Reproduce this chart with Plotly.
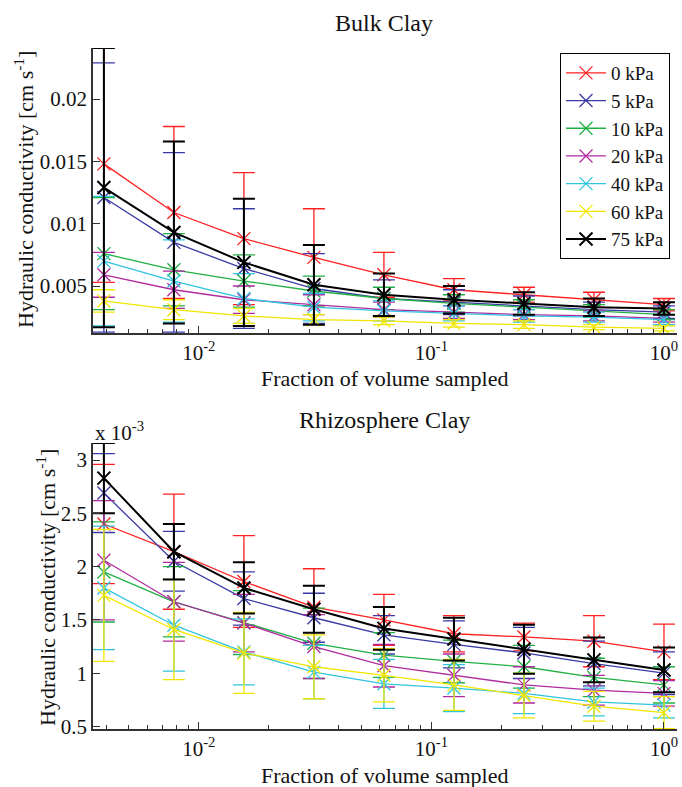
import plotly.graph_objects as go

# ---------------- data ----------------
fraction = [1/256, 1/128, 1/64, 1/32, 1/16, 1/8, 1/4, 1/2, 1]
series_names = ["0 kPa", "5 kPa", "10 kPa", "20 kPa", "40 kPa", "60 kPa", "75 kPa"]
colors = ["#ff2020", "#3a3aa6", "#22b045", "#b02aa0", "#30c4e0", "#f2e600", "#000000"]

# Bulk clay, hydraulic conductivity [cm/s]
bulk_0 = [0.0148, 0.0109, 0.0088, 0.0073, 0.0059, 0.0047, 0.0043, 0.0039, 0.0035]
bulk_5 = [0.0121, 0.0085, 0.0064, 0.0048, 0.0040, 0.0037, 0.0034, 0.0031, 0.0029]
bulk_10 = [0.0076, 0.0063, 0.0054, 0.0046, 0.0040, 0.0036, 0.0033, 0.0030, 0.0027]
bulk_20 = [0.0059, 0.0047, 0.0039, 0.0035, 0.0031, 0.0029, 0.0027, 0.0026, 0.0024]
bulk_40 = [0.0070, 0.0054, 0.0040, 0.0033, 0.0030, 0.0028, 0.0026, 0.0025, 0.0023]
bulk_60 = [0.0038, 0.0031, 0.0026, 0.0023, 0.0022, 0.0020, 0.0019, 0.0017, 0.0016]
bulk_75 = [0.0129, 0.0093, 0.0069, 0.0051, 0.0043, 0.0039, 0.0036, 0.0033, 0.0032]

bulk_err_0 = [0.0095, 0.0069, 0.0053, 0.0039, 0.0018, 0.0009, 0.0006, 0.0006, 0.0005]
bulk_err_5 = [0.0108, 0.0072, 0.0048, 0.0028, 0.0015, 0.0010, 0.0008, 0.0006, 0.0005]
bulk_err_10 = [0.0045, 0.0029, 0.0021, 0.0012, 0.0009, 0.0007, 0.0006, 0.0005, 0.0004]
bulk_err_20 = [0.0018, 0.0015, 0.0011, 0.0008, 0.0006, 0.0005, 0.0004, 0.0004, 0.0003]
bulk_err_40 = [0.0052, 0.0033, 0.0020, 0.0011, 0.0008, 0.0006, 0.0005, 0.0004, 0.0004]
bulk_err_60 = [0.0009, 0.0008, 0.0006, 0.0004, 0.0003, 0.0003, 0.0003, 0.0002, 0.0002]
bulk_err_75 = [0.0112, 0.0073, 0.0051, 0.0032, 0.0017, 0.0011, 0.0009, 0.0007, 0.0005]

# Rhizosphere clay, hydraulic conductivity [x 10^-3 cm/s]
rhizo_0 = [2.40, 2.14, 1.86, 1.62, 1.50, 1.37, 1.34, 1.30, 1.20]
rhizo_5 = [2.69, 2.05, 1.70, 1.52, 1.36, 1.27, 1.19, 1.09, 1.00]
rhizo_10 = [1.95, 1.67, 1.475, 1.28, 1.17, 1.11, 1.06, 0.96, 0.89]
rhizo_20 = [2.06, 1.67, 1.47, 1.25, 1.07, 0.98, 0.89, 0.84, 0.81]
rhizo_40 = [1.80, 1.45, 1.20, 1.01, 0.90, 0.86, 0.81, 0.73, 0.70]
rhizo_60 = [1.73, 1.41, 1.19, 1.06, 0.98, 0.89, 0.79, 0.69, 0.63]
rhizo_75 = [2.83, 2.14, 1.80, 1.60, 1.42, 1.32, 1.225, 1.125, 1.03]

rhizo_err_0 = [0.56, 0.54, 0.43, 0.36, 0.24, 0.17, 0.13, 0.24, 0.26]
rhizo_err_5 = [0.37, 0.28, 0.25, 0.23, 0.18, 0.22, 0.24, 0.21, 0.20]
rhizo_err_10 = [0.47, 0.33, 0.30, 0.33, 0.21, 0.20, 0.20, 0.18, 0.17]
rhizo_err_20 = [0.56, 0.37, 0.27, 0.30, 0.20, 0.20, 0.17, 0.14, 0.12]
rhizo_err_40 = [0.58, 0.43, 0.31, 0.25, 0.23, 0.22, 0.19, 0.13, 0.12]
rhizo_err_60 = [0.62, 0.47, 0.38, 0.30, 0.25, 0.24, 0.21, 0.14, 0.15]
rhizo_err_75 = [0.33, 0.26, 0.24, 0.22, 0.20, 0.20, 0.23, 0.21, 0.21]

bulk_ticks = [0.005, 0.01, 0.015, 0.02]
bulk_ticktext = ["0.005", "0.01", "0.015", "0.02"]
rhizo_ticks = [0.5, 1, 1.5, 2, 2.5, 3]
rhizo_ticktext = ["0.5", "1", "1.5", "2", "2.5", "3"]
x_ticks = [0.01, 0.1, 1]
x_ticktext = ["10<sup>-2</sup>", "10<sup>-1</sup>", "10<sup>0</sup>"]

bulk = [bulk_0, bulk_5, bulk_10, bulk_20, bulk_40, bulk_60, bulk_75]
bulk_err = [bulk_err_0, bulk_err_5, bulk_err_10, bulk_err_20, bulk_err_40, bulk_err_60, bulk_err_75]
rhizo = [rhizo_0, rhizo_5, rhizo_10, rhizo_20, rhizo_40, rhizo_60, rhizo_75]
rhizo_err = [rhizo_err_0, rhizo_err_5, rhizo_err_10, rhizo_err_20, rhizo_err_40, rhizo_err_60, rhizo_err_75]

FONT = "Liberation Serif"
W, H = 682, 787
ML, MR, MT, MB = 93, 5, 48, 58
PW = W - ML - MR
PH = H - MT - MB

def py(ypx):
    return (H - MB - ypx) / PH

def px(xpx):
    return (xpx - ML) / PW

fig = go.Figure()

for i, name in enumerate(series_names):
    lw = 2.0 if colors[i] == "#000000" else 1.3
    fig.add_trace(go.Scatter(
        x=fraction, y=bulk[i], name=name, mode="lines+markers",
        line=dict(color=colors[i], width=lw),
        marker=dict(symbol="x-thin-open", size=13, color=colors[i],
                    line=dict(color=colors[i], width=lw)),
        error_y=dict(type="data", array=bulk_err[i], visible=True,
                     width=11, thickness=lw, color=colors[i]),
        xaxis="x", yaxis="y", showlegend=True,
    ))
for i, name in enumerate(series_names):
    lw = 2.0 if colors[i] == "#000000" else 1.3
    fig.add_trace(go.Scatter(
        x=fraction, y=rhizo[i], name=name, mode="lines+markers",
        line=dict(color=colors[i], width=lw),
        marker=dict(symbol="x-thin-open", size=13, color=colors[i],
                    line=dict(color=colors[i], width=lw)),
        error_y=dict(type="data", array=rhizo_err[i], visible=True,
                     width=11, thickness=lw, color=colors[i]),
        xaxis="x2", yaxis="y2", showlegend=False,
    ))

minor_vals = [m * 10 ** e for e in (-3, -2, -1) for m in range(2, 10)]

xcommon = dict(
    type="log", range=[-2.455, 0.056], tickmode="array", tickvals=x_ticks,
    ticktext=x_ticktext, ticks="inside", ticklen=7, tickwidth=1.2,
    tickcolor="#333", showline=True, linecolor="#333", linewidth=1.5,
    showgrid=False, zeroline=False, mirror=False,
    tickfont=dict(family=FONT, size=21, color="#111"),
    minor=dict(tickmode="array", tickvals=minor_vals, ticks="inside",
               ticklen=4, tickwidth=1, tickcolor="#333", showgrid=False),
)
ycommon = dict(
    ticks="inside", ticklen=7, tickwidth=1.2, tickcolor="#333",
    showline=True, linecolor="#333", linewidth=1.5, showgrid=False,
    zeroline=False, tickfont=dict(family=FONT, size=21, color="#111"),
    tickmode="array",
)

fig.update_layout(
    width=W, height=H, margin=dict(l=ML, r=MR, t=MT, b=MB),
    paper_bgcolor="white", plot_bgcolor="white",
    xaxis=dict(**xcommon, domain=[0, 1], anchor="y"),
    yaxis=dict(**ycommon, domain=[py(333), 1.0], range=[0.00123, 0.0241],
               tickvals=bulk_ticks, ticktext=bulk_ticktext, anchor="x"),
    xaxis2=dict(**xcommon, domain=[0, 1], anchor="y2"),
    yaxis2=dict(**ycommon, domain=[0, py(443)], range=[0.476, 3.16],
                tickvals=rhizo_ticks, ticktext=rhizo_ticktext, anchor="x2"),
    legend=dict(x=px(670), y=py(53), xanchor="right", yanchor="top",
                bordercolor="#000", borderwidth=1, bgcolor="white",
                font=dict(family=FONT, size=19, color="#111"),
                tracegroupgap=0, itemwidth=40),
    font=dict(family=FONT, color="#111"),
    showlegend=True,
)

ann = []
def add_text(text, x, y, size, angle=0, xanchor="center", yanchor="middle"):
    ann.append(dict(text=text, x=x, y=y, xref="paper", yref="paper",
                    showarrow=False, textangle=angle, xanchor=xanchor,
                    yanchor=yanchor, font=dict(family=FONT, size=size, color="#111")))

add_text("Bulk Clay", px(384), py(23), 24)
add_text("Rhizosphere Clay", px(384), py(420), 24)
add_text("Fraction of volume sampled", px(384), py(378), 22)
add_text("Fraction of volume sampled", px(384), py(775), 22)
add_text("Hydraulic conductivity [cm s<sup>-1</sup>]", px(24), py(190), 22, angle=-90)
add_text("Hydraulic conductivity [cm s<sup>-1</sup>]", px(46), py(588), 22, angle=-90)
add_text("x 10<sup>-3</sup>", px(93), py(432), 21, xanchor="left")
fig.update_layout(annotations=ann)

fig.write_html("out.html")
